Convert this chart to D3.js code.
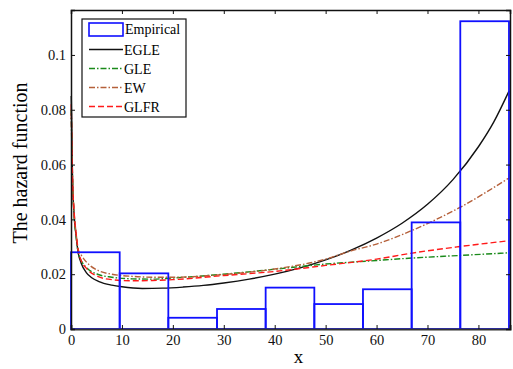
<!DOCTYPE html>
<html>
<head>
<meta charset="utf-8">
<script src="https://cdn.jsdelivr.net/npm/d3@7"></script>
<style>
  body { margin: 0; background: #fff; }
  svg text { font-family: "Times New Roman", "Liberation Serif", "DejaVu Serif", "Noto Serif", serif; }
</style>
</head>
<body>
<div id="chart"></div>
<script>
// histogram bins (edges) and empirical hazard
const binEdges = [0, 9.56, 19.11, 28.67, 38.22, 47.78, 57.33, 66.89, 76.44, 86];
const empirical = [0.0280, 0.0203, 0.0041, 0.0073, 0.0151, 0.0091, 0.0145, 0.0389, 0.1123];

// fitted hazard curves as [x, h]
const egle = [[0.05, 0.085], [0.3, 0.055], [0.6, 0.042], [1, 0.034], [1.4, 0.028], [2, 0.024], [3, 0.0206], [4, 0.0188],
  [5.5, 0.0173], [8, 0.016], [10, 0.0154], [14, 0.0148], [18, 0.0149], [22, 0.0153], [26, 0.0159], [30, 0.0168],
  [35, 0.0182], [40, 0.02], [45, 0.0223], [50, 0.0252], [55, 0.0288], [60, 0.0332], [65, 0.0386], [70, 0.0455],
  [75, 0.0545], [80, 0.0665], [83, 0.0755], [86, 0.0868]];
const gle = [[0.05, 0.08], [0.3, 0.054], [0.6, 0.042], [1, 0.034], [1.4, 0.028], [2, 0.025], [3, 0.0225], [5.5, 0.0198],
  [8, 0.0189], [12, 0.0183], [16, 0.0182], [20, 0.0186], [30, 0.02], [40, 0.0218], [50, 0.0237], [60, 0.025],
  [67, 0.0259], [76, 0.0268], [86, 0.0278]];
const ew = [[0.05, 0.08], [0.3, 0.055], [0.6, 0.043], [1, 0.035], [1.4, 0.029], [2, 0.027], [3, 0.0245], [5.5, 0.0212],
  [8, 0.02], [12, 0.0192], [16, 0.0189], [20, 0.0189], [30, 0.0199], [40, 0.0219], [50, 0.0255], [55, 0.0285],
  [60, 0.031], [67, 0.036], [76, 0.044], [86, 0.0551]];
const glfr = [[0.05, 0.082], [0.3, 0.055], [0.6, 0.043], [1, 0.035], [1.4, 0.029], [2, 0.025], [3, 0.0222], [5.5, 0.019],
  [8, 0.018], [12, 0.0176], [16, 0.0177], [20, 0.018], [30, 0.0195], [40, 0.021], [50, 0.0232], [60, 0.0255],
  [67, 0.0277], [76, 0.03], [86, 0.0322]];

const xTicks = [0, 10, 20, 30, 40, 50, 60, 70, 80];
const yTicks = [0, 0.02, 0.04, 0.06, 0.08, 0.1];

const series = [
  { name: 'EGLE', data: egle, color: '#111', dash: null },
  { name: 'GLE', data: gle, color: '#1a8a1a', dash: '6,2,1.5,2' },
  { name: 'EW', data: ew, color: '#b5603a', dash: '6,2,1.5,2' },
  { name: 'GLFR', data: glfr, color: '#ff1a1a', dash: '6,3' }
];

const W = 513, H = 369;
const m = { left: 71, right: 3, top: 10, bottom: 40 };
const serif = '"Times New Roman", "Liberation Serif", "DejaVu Serif", "Noto Serif", serif';

const svg = d3.select('#chart').append('svg')
  .attr('width', W)
  .attr('height', H);

const x = d3.scaleLinear().domain([0, 86.2]).range([m.left, W - m.right]);
const y = d3.scaleLinear().domain([0, 0.1164]).range([H - m.bottom, m.top]);

let line = d3.line()
  .x(d => x(d[0]))
  .y(d => y(d[1]))
  .curve(d3.curveMonotoneX);

// curves
series.forEach(s => {
  svg.append('path')
    .attr('d', line(s.data))
    .attr('fill', 'none')
    .attr('stroke', s.color)
    .attr('stroke-width', 1.4)
    .attr('stroke-dasharray', s.dash);
});

// histogram outlines
svg.selectAll('rect.bar')
  .data(empirical)
  .enter().append('rect')
  .attr('class', 'bar')
  .attr('x', (d, i) => x(binEdges[i]))
  .attr('width', (d, i) => x(binEdges[i + 1]) - x(binEdges[i]))
  .attr('y', d => y(d))
  .attr('height', d => y(0) - y(d))
  .attr('fill', 'none')
  .attr('stroke', '#1010ff')
  .attr('stroke-width', 1.8);

// axes, ticks inward on all four sides
const xb = svg.append('g').attr('transform', 'translate(0,' + y(0) + ')')
  .call(d3.axisBottom(x).tickValues(xTicks).tickSize(-4).tickPadding(6).tickFormat(d3.format('d')));
const xt = svg.append('g').attr('transform', 'translate(0,' + m.top + ')')
  .call(d3.axisTop(x).tickValues(xTicks).tickSize(-4).tickFormat(''));
const yl = svg.append('g').attr('transform', 'translate(' + m.left + ',0)')
  .call(d3.axisLeft(y).tickValues(yTicks).tickSize(-4).tickPadding(5).tickFormat(d => d === 0 ? '0' : d3.format('')(d)));
const yr = svg.append('g').attr('transform', 'translate(' + (W - m.right) + ',0)')
  .call(d3.axisRight(y).tickValues(yTicks).tickSize(-4).tickFormat(''));

[xb, xt, yl, yr].forEach(g => {
  g.attr('font-family', null);
  g.select('.domain').attr('stroke', '#111').attr('stroke-width', 1.5);
  g.selectAll('.tick line').attr('stroke', '#111');
  g.selectAll('text').attr('fill', '#111').attr('font-family', serif).style('font-size', '14.5px');
});
xb.select('.domain').attr('stroke', '#333').attr('stroke-width', 2);

// axis titles
svg.append('text')
  .attr('x', (x(0) + x(86.2)) / 2 + 8)
  .attr('y', 363)
  .attr('text-anchor', 'middle')
  .attr('font-family', serif)
  .style('font-size', '19px')
  .text('x');

svg.append('text')
  .attr('transform', 'translate(27,' + 163 + ') rotate(-90)')
  .attr('text-anchor', 'middle')
  .attr('font-family', serif)
  .style('font-size', '20px')
  .text('The hazard function');

// legend
let legend = svg.append('g').attr('transform', 'translate(82,19)');
legend.append('rect')
  .attr('width', 104).attr('height', 98)
  .attr('fill', '#fff').attr('stroke', '#111').attr('stroke-width', 1.2);

legend.append('rect')
  .attr('x', 7).attr('y', 4).attr('width', 34).attr('height', 13)
  .attr('fill', 'none').attr('stroke', '#1010ff').attr('stroke-width', 1.6);
legend.append('text').attr('x', 43).attr('y', 15).attr('font-family', serif)
  .style('font-size', '14px').text('Empirical');

series.forEach((s, i) => {
  let ly = 30.5 + i * 19;
  legend.append('line')
    .attr('x1', 7).attr('x2', 41).attr('y1', ly).attr('y2', ly)
    .attr('stroke', s.color).attr('stroke-width', 1.4)
    .attr('stroke-dasharray', s.dash);
  legend.append('text').attr('x', 42).attr('y', ly + 5).attr('font-family', serif)
    .style('font-size', '14px').text(s.name);
});
</script>
</body>
</html>
